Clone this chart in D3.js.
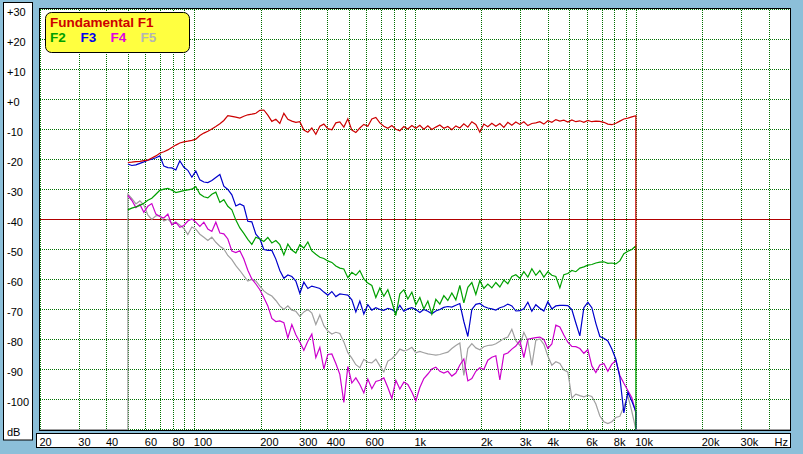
<!DOCTYPE html>
<html><head><meta charset="utf-8">
<script src="https://cdn.jsdelivr.net/npm/d3@7/dist/d3.min.js"></script>
<style>html,body{margin:0;padding:0;background:#8cbfd9;overflow:hidden}svg{display:block}</style>
</head><body>
<svg id="c" width="803" height="454"></svg>
<script>
// ---- data ----
const freqs = [50,52.1,54.4,56.7,59.1,61.6,64.2,67,69.8,72.8,
75.9,79.1,82.5,86,89.7,93.5,97.5,101.6,106,110.5,
115.2,120.1,125.2,130.6,136.1,141.9,148,154.3,160.9,167.7,
174.8,182.3,190.1,198.2,206.6,215.4,224.6,234.2,244.1,254.6,
265.4,276.7,288.5,300.8,313.6,327,340.9,355.4,370.6,386.4,
402.8,420,437.9,456.5,476,496.3,517.4,539.5,562.5,586.4,
611.4,637.5,664.6,693,722.5,753.3,785.4,818.8,853.7,890.1,
928,967.6,1008.8,1051.8,1096.6,1143.3,1192,1242.8,1295.8,1351,
1408.6,1468.6,1531.2,1596.4,1664.4,1735.3,1809.3,1886.4,1966.8,2050.6,
2138,2229.1,2324.1,2423.1,2526.4,2634,2746.3,2863.3,2985.3,3112.5,
3245.2,3383.5,3527.6,3677.9,3834.7,3998.1,4168.5,4346.1,4531.3,4724.4,
4925.8,5135.7,5354.5,5582.7,5820.6,6068.6,6327.2,6596.9,6878,7171.1,
7476.7,7795.3,8127.5,8473.8,8834.9,9211.4,9604,10013];

const f1 = [-21.0,-20.9,-20.7,-20.6,-20.4,-20.2,-19.5,-18.8,-17.9,-17.4,
-16.8,-16.0,-15.2,-14.5,-14.1,-13.9,-13.6,-13.2,-12.0,-11.2,
-10.6,-9.8,-9.0,-8.1,-7.0,-5.4,-5.6,-5.9,-6.2,-5.6,
-5.1,-4.9,-4.6,-3.6,-3.5,-5.2,-7.3,-6.6,-8.0,-4.6,
-6.6,-7.2,-7.6,-7.4,-10.2,-10.9,-9.5,-11.6,-8.9,-8.2,
-9.7,-10.1,-7.8,-7.5,-9.2,-6.4,-10.2,-11.0,-9.5,-8.3,
-8.9,-6.5,-6.0,-7.8,-8.9,-9.6,-8.7,-9.9,-10.4,-9.0,
-9.8,-8.7,-9.6,-8.6,-9.9,-8.8,-10.0,-9.2,-8.5,-9.6,
-9.0,-10.1,-8.8,-9.5,-8.1,-9.2,-7.4,-8.3,-10.9,-8.2,
-9.1,-7.9,-8.9,-8.0,-9.3,-7.6,-8.6,-7.5,-8.3,-7.4,
-8.7,-8.0,-7.8,-7.4,-8.2,-7.1,-7.6,-6.7,-7.2,-6.9,
-7.5,-6.8,-7.4,-7.1,-7.6,-7.0,-7.4,-7.2,-7.3,-7.6,
-8.2,-8.4,-7.9,-7.2,-6.5,-6.2,-5.8,-5.4];

const f2 = [-36.8,-36.2,-35.8,-35.3,-34.6,-33.6,-32.9,-31.6,-30.3,-29.9,
-29.6,-30.2,-31.0,-30.7,-30.4,-30.1,-29.9,-29.0,-31.5,-32.4,
-32.8,-31.6,-30.9,-34.3,-33.4,-35.6,-36.8,-40.2,-42.8,-44.6,
-46.6,-48.3,-45.9,-46.5,-47.3,-46.0,-47.8,-47.0,-48.4,-51.8,
-48.2,-50.2,-51.2,-48.4,-49.5,-47.5,-50.5,-51.6,-52.6,-53.0,
-53.8,-54.3,-55.5,-56.2,-56.5,-59.4,-57.6,-58.6,-57.0,-59.8,
-61.2,-62.0,-66.0,-62.8,-65.6,-63.4,-67.5,-72.0,-64.8,-63.4,
-66.5,-64.2,-68.4,-66.0,-69.8,-67.2,-71.5,-66.6,-68.2,-65.4,
-67.0,-64.5,-66.8,-62.0,-67.8,-62.6,-61.0,-65.0,-60.4,-63.0,
-61.5,-62.8,-61.0,-62.5,-60.2,-61.4,-59.0,-58.4,-59.6,-57.4,
-59.2,-56.4,-58.6,-57.0,-59.2,-57.4,-58.6,-59.0,-62.8,-58.4,
-58.0,-57.0,-57.4,-56.2,-55.8,-55.2,-55.0,-54.5,-54.2,-54.1,
-54.6,-54.5,-54.8,-53.8,-51.4,-50.6,-50.0,-48.8];

const f3 = [-21.5,-22.0,-21.8,-21.3,-20.8,-20.2,-19.9,-19.4,-18.8,-22.2,
-22.7,-22.8,-23.5,-20.4,-22.6,-23.6,-25.9,-23.8,-26.8,-27.5,
-27.7,-27.0,-26.0,-25.0,-28.9,-30.0,-31.8,-35.5,-34.8,-35.5,
-40.6,-40.8,-44.9,-46.4,-50.0,-50.3,-50.3,-53.2,-57.0,-59.6,
-58.5,-59.0,-60.5,-64.6,-60.9,-63.0,-62.2,-62.6,-63.0,-64.2,
-65.2,-64.0,-65.7,-64.8,-65.0,-65.2,-66.8,-70.8,-67.2,-71.5,
-68.4,-70.2,-69.4,-70.0,-70.3,-69.6,-70.0,-70.9,-68.6,-70.6,
-69.8,-69.4,-70.0,-71.0,-70.0,-70.6,-71.4,-70.5,-70.0,-69.3,
-69.0,-69.2,-68.6,-68.0,-74.0,-79.0,-70.0,-68.3,-68.0,-69.0,
-69.5,-69.8,-70.2,-69.4,-69.0,-68.2,-68.8,-70.5,-70.4,-69.8,
-67.6,-70.6,-68.4,-69.6,-70.5,-67.4,-69.8,-68.8,-68.6,-68.6,
-68.7,-70.0,-74.5,-78.8,-69.4,-67.6,-69.4,-74.6,-79.0,-79.6,
-80.5,-83.2,-86.6,-92.5,-104.5,-97.6,-100.6,-104.0];

const f4 = [-32.0,-33.6,-36.0,-35.0,-37.6,-35.6,-34.7,-38.2,-39.0,-39.5,
-38.2,-41.8,-40.9,-42.6,-42.0,-40.5,-39.8,-40.9,-42.3,-40.9,
-43.2,-44.0,-40.9,-44.5,-44.8,-46.5,-50.5,-51.0,-50.4,-53.2,
-56.9,-59.8,-61.5,-63.4,-66.0,-68.8,-73.0,-74.0,-73.8,-74.4,
-79.5,-75.0,-78.4,-80.8,-83.6,-80.6,-78.2,-86.0,-82.6,-89.8,
-85.0,-84.8,-88.0,-91.6,-101.0,-89.0,-94.5,-92.8,-95.0,-97.8,
-93.2,-96.4,-94.0,-93.6,-92.8,-96.0,-99.6,-93.6,-96.5,-94.2,
-95.0,-97.5,-100.4,-96.0,-93.0,-91.5,-89.8,-89.2,-90.6,-91.2,
-90.6,-92.2,-91.2,-88.5,-86.5,-93.8,-93.0,-90.6,-89.4,-90.0,
-86.9,-85.9,-85.4,-93.5,-85.0,-84.5,-83.2,-82.2,-80.4,-86.0,
-79.9,-79.6,-79.4,-79.2,-80.0,-83.0,-81.5,-75.2,-75.8,-78.5,
-80.9,-82.3,-82.4,-83.0,-84.6,-83.4,-88.8,-91.0,-88.5,-88.0,
-90.6,-88.2,-87.0,-92.0,-94.6,-97.0,-99.4,-104.5];

const f5 = [-31.5,-33.0,-34.8,-33.8,-35.2,-38.5,-40.0,-38.8,-38.6,-40.5,
-39.9,-41.3,-40.9,-41.8,-43.0,-45.0,-42.5,-43.2,-44.9,-45.9,
-47.0,-45.9,-47.6,-48.9,-49.8,-52.0,-53.4,-55.4,-57.0,-58.8,
-60.5,-60.0,-60.5,-62.2,-63.8,-64.8,-65.5,-67.0,-68.8,-70.0,
-68.8,-70.2,-70.6,-72.3,-70.8,-70.0,-71.2,-75.0,-71.8,-75.4,
-77.2,-78.2,-77.6,-78.0,-80.8,-84.4,-86.2,-88.4,-89.4,-86.6,
-87.6,-87.8,-86.6,-88.8,-90.8,-87.2,-86.4,-85.0,-83.2,-83.8,
-83.4,-82.6,-84.4,-84.0,-84.4,-84.8,-85.0,-85.2,-85.0,-84.6,
-84.2,-83.0,-82.0,-81.2,-92.0,-83.0,-81.4,-82.8,-83.4,-82.4,
-82.0,-81.9,-81.4,-80.6,-79.7,-79.2,-76.6,-80.4,-82.0,-77.6,
-80.4,-88.6,-80.2,-79.8,-81.6,-85.5,-88.6,-87.4,-88.0,-90.2,
-90.8,-99.5,-98.2,-98.7,-99.1,-98.6,-99.0,-101.5,-105.5,-107.4,
-108.0,-107.4,-106.0,-105.6,-102.4,-98.8,-104.0,-110];

const seriesNames = ["Fundamental F1","F2","F3","F4","F5"];
const seriesColors = ["#cc0000","#00a000","#0000cc","#cc00cc","#a0a0a0"];
const legendColors = ["#cc0000","#00a000","#0000ee","#e000e0","#b4b4b4"];
const endDb = [-80,-110,-110,-110,-110];
const floorDb = -110;

const yTicks = [30,20,10,0,-10,-20,-30,-40,-50,-60,-70,-80,-90,-100,-110];
const yTickLabels = ["+30","+20","+10","+0","-10","-20","-30","-40","-50","-60","-70","-80","-90","-100","dB"];
const xGrid = [20,30,40,50,60,70,80,90,100,200,300,400,500,600,700,800,900,
  1000,2000,3000,4000,5000,6000,7000,8000,9000,10000,20000,30000,40000,50000];
const xTicks = [20,30,40,60,80,100,200,300,400,600,1000,2000,3000,4000,6000,8000,10000,20000,30000];
const xTickLabels = ["20","30","40","60","80","100","200","300","400","600","1k","2k","3k","4k","6k","8k","10k","20k","30k"];
const refLevel = -40;

// ---- layout ----
const svg = d3.select("#c");
const P = {l:40, r:790, t:9.5, b:429.5};
const x = d3.scaleLog().domain([20,50000]).range([P.l, P.r]);
const y = d3.scaleLinear().domain([-110,30]).range([P.b, P.t]);
const font = "'Liberation Sans', Arial, sans-serif";

svg.append("rect").attr("width",803).attr("height",454).attr("fill","#8cbfd9");

// y label box
svg.append("rect").attr("x",3.5).attr("y",2.5).attr("width",29).attr("height",437.5)
  .attr("fill","#fff").attr("stroke","#000");
svg.selectAll("text.yl").data(yTicks).enter().append("text").attr("class","yl")
  .attr("x",7).attr("y",d=>y(d)+6).attr("font-family",font).attr("font-size",11)
  .attr("fill","#000").text((d,i)=>yTickLabels[i]);

// x label box
svg.append("rect").attr("x",36.5).attr("y",433.5).attr("width",754).attr("height",14)
  .attr("fill","#fff").attr("stroke","#000");
svg.selectAll("text.xl").data(xTicks).enter().append("text").attr("class","xl")
  .attr("x",d=>x(d)-0.5).attr("y",446).attr("font-family",font).attr("font-size",11)
  .attr("fill","#000").text((d,i)=>xTickLabels[i]);
svg.append("text").attr("x",788).attr("y",446).attr("text-anchor","end")
  .attr("font-family",font).attr("font-size",11).text("Hz");

// plot area
svg.append("rect").attr("x",P.l).attr("y",P.t-0.5).attr("width",P.r-P.l).attr("height",P.b-P.t+1)
  .attr("fill","#fff");
svg.append("clipPath").attr("id","clip").append("rect")
  .attr("x",P.l).attr("y",P.t-0.5).attr("width",P.r-P.l).attr("height",P.b-P.t+1.5);

const g = svg.append("g").attr("shape-rendering","crispEdges");
// grid
g.selectAll("line.vg").data(xGrid).enter().append("line")
  .attr("x1",d=>Math.round(x(d))+0.5).attr("x2",d=>Math.round(x(d))+0.5)
  .attr("y1",P.t).attr("y2",P.b)
  .attr("stroke","#007000").attr("stroke-dasharray","1,1");
g.selectAll("line.hg").data(yTicks.filter(d=>d!==refLevel)).enter().append("line")
  .attr("x1",P.l).attr("x2",P.r).attr("y1",d=>y(d)).attr("y2",d=>y(d))
  .attr("stroke","#007000").attr("stroke-dasharray","1,1");
g.append("line").attr("x1",P.l).attr("x2",P.r).attr("y1",y(refLevel)).attr("y2",y(refLevel))
  .attr("stroke","#b00000");

// frame
svg.append("rect").attr("x",P.l-0.5).attr("y",P.t-1).attr("width",P.r-P.l+1).attr("height",P.b-P.t+1.5)
  .attr("fill","none").attr("stroke","#000").attr("shape-rendering","crispEdges");

// traces
const series = [f1,f2,f3,f4,f5];
const line = d3.line().x(d=>x(d[0])).y(d=>y(d[1]));
const tg = svg.append("g").attr("clip-path","url(#clip)");
for (let i = series.length-1; i >= 0; i--) {
  let pts = freqs.map((f,k)=>[f, series[i][k]]);
  const last = freqs[freqs.length-1];
  if (i === 4) {
    pts = [[20,floorDb],[freqs[0],floorDb]].concat(pts).concat([[last,floorDb],[50000,floorDb]]);
  } else {
    pts.push([last, endDb[i]]);
  }
  tg.append("path").attr("d",line(pts)).attr("fill","none")
    .attr("stroke",seriesColors[i]).attr("stroke-width",1.2);
}

// legend
svg.append("rect").attr("x",45.5).attr("y",12.5).attr("width",144).attr("height",40)
  .attr("rx",6).attr("fill","#ffff40").attr("stroke","#000");
svg.append("text").attr("x",50).attr("y",27).attr("font-family",font).attr("font-weight","bold")
  .attr("font-size",13.5).attr("fill",legendColors[0]).text(seriesNames[0]);
const lx = [50,80.5,110.5,140.5];
seriesNames.slice(1).forEach((n,i)=>{
  svg.append("text").attr("x",lx[i]).attr("y",42).attr("font-family",font).attr("font-weight","bold")
    .attr("font-size",13.5).attr("fill",legendColors[i+1]).text(n);
});
</script>
</body></html>
